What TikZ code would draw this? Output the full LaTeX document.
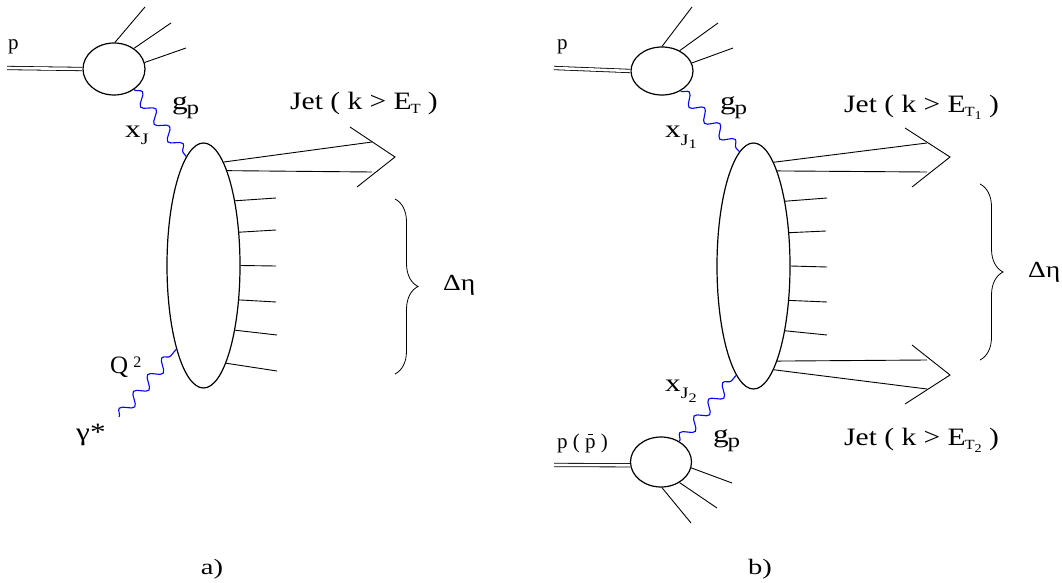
\documentclass[tikz,border=0pt]{standalone}
\usepackage{fontspec}
\setmainfont{Liberation Serif}
\usepackage{graphicx}
\usetikzlibrary{shapes.geometric,decorations.pathmorphing,decorations.pathreplacing}
\newcommand{\hsc}[2]{\scalebox{#1}[1]{#2}}
\newcommand{\lowsub}[3]{\raisebox{-#1pt}{\fontsize{#2}{#2}\selectfont #3}}
\newcommand{\pbar}{\ooalign{p\cr\hidewidth\rule[0.62em]{0.22em}{0.05em}\hidewidth\cr}}
\begin{document}
\begin{tikzpicture}[x=1pt,y=-1pt,
  blob/.style={draw, ellipse, inner sep=0pt, line width=1.2pt},
  ln/.style={line width=0.9pt},
  beam/.style={double, double distance=2.6pt, line width=0.8pt},
  gluon/.style={draw=blue, line width=1.1pt, decorate,
    decoration={snake, segment length=22pt, amplitude=5.5pt}},
  lbl/.style={inner sep=0pt, anchor=base west, font=\fontsize{25}{29}\selectfont},
  smalllbl/.style={lbl, font=\fontsize{21}{24}\selectfont},
  brc/.style={decorate, decoration={brace, amplitude=23pt}, line width=0.8pt}
]
\useasboundingbox (0,0) rectangle (1062,583);

% ---------------- panel a ----------------
\node[blob, minimum width=62pt, minimum height=52pt] (sa) at (114,69) {};
\node[blob, minimum width=73pt, minimum height=245pt] (Ba) at (203.5,265.5) {};

\coordinate (pa) at (7,68);
\draw[beam] (pa) -- (sa.west);
\coordinate (sa1) at (145,7);
\coordinate (sa2) at (171,23);
\coordinate (sa3) at (186,48);
\draw[ln] (sa.88) -- (sa1);
\draw[ln] (sa.46) -- (sa2);
\draw[ln] (sa.12) -- (sa3);

\draw[gluon] (sa.-46) -- (Ba.99);
\coordinate (ga) at (119,417);
\draw[gluon] (ga) -- (Ba.252);

\coordinate (ja1) at (372,142);
\coordinate (ja2) at (372,172);
\coordinate (jaU) at (350,127);
\coordinate (jaT) at (395,157);
\coordinate (jaL) at (357,187);
\draw[ln] (Ba.79) -- (ja1);
\draw[ln] (Ba.76) -- (ja2);
\draw[ln] (jaU) -- (jaT) -- (jaL);

\coordinate (ha1) at (276,198);
\coordinate (ha2) at (276,230);
\coordinate (ha3) at (276,266);
\coordinate (ha4) at (276,302);
\coordinate (ha5) at (277,335);
\coordinate (ha6) at (277,371);
\draw[ln] (Ba.64) -- (ha1);
\draw[ln] (Ba.43) -- (ha2);
\draw[ln] (Ba.0) -- (ha3);
\draw[ln] (Ba.-44) -- (ha4);
\draw[ln] (Ba.-64) -- (ha5);
\draw[ln] (Ba.-77) -- (ha6);

\coordinate (bat) at (395,199);
\coordinate (bab) at (395,374);
\draw[brc] (bat) -- (bab);

\node[smalllbl] (lpa) at (8,50) {p};
\node[lbl] (lga) at (172,110) {\hsc{1.25}{g\kern-1pt\lowsub{5}{20}{p}}};
\node[lbl] (lxa) at (125,137) {\hsc{1.25}{x\lowsub{7}{16}{J}}};
\node[lbl] (lja) at (290,110) {\hsc{1.18}{Jet ( k > E\kern-1pt\lowsub{4}{14}{T} )}};
\node[lbl] (lqa) at (110,373) {Q\kern5pt\raisebox{6pt}{\fontsize{16}{16}\selectfont 2}};
\node[lbl] (lgam) at (76,440) {\hsc{1.25}{γ*}};
\node[lbl, font=\fontsize{23}{26}\selectfont] (lda) at (443,290) {\hsc{1.2}{Δη}};
\node[lbl, anchor=center, font=\fontsize{22}{26}\selectfont] (capa) at (212,569) {\hsc{1.3}{a)}};

% ---------------- panel b ----------------
\node[blob, minimum width=62pt, minimum height=48pt] (sb) at (662,71) {};
\node[blob, minimum width=73pt, minimum height=246pt] (Bb) at (753.5,266) {};
\node[blob, minimum width=61pt, minimum height=50pt] (sc) at (661,462) {};

\coordinate (pb) at (554,68);
\draw[beam] (pb) -- (sb.west);
\coordinate (pc) at (554,465);
\draw[beam] (pc) -- (sc.186);

\coordinate (sb1) at (692,7);
\coordinate (sb2) at (718,23);
\coordinate (sb3) at (733,48);
\draw[ln] (sb.90) -- (sb1);
\draw[ln] (sb.49) -- (sb2);
\draw[ln] (sb.15) -- (sb3);

\coordinate (sc1) at (732,483);
\coordinate (sc2) at (717,508);
\coordinate (sc3) at (691,523);
\draw[ln] (sc.-11) -- (sc1);
\draw[ln] (sc.-48) -- (sc2);
\draw[ln] (sc.-88) -- (sc3);

\draw[gluon] (sb.-47) -- (Bb.97.6);
\draw[gluon] (sc.48) -- (Bb.261.4);

\coordinate (jb1) at (927,143);
\coordinate (jb2) at (927,172);
\coordinate (jbU) at (905,128);
\coordinate (jbT) at (950,157);
\coordinate (jbL) at (912,187);
\draw[ln] (Bb.79) -- (jb1);
\draw[ln] (Bb.76) -- (jb2);
\draw[ln] (jbU) -- (jbT) -- (jbL);

\coordinate (kb1) at (927,360);
\coordinate (kb2) at (927,389);
\coordinate (kbU) at (912,345);
\coordinate (kbT) at (950,375);
\coordinate (kbL) at (905,404);
\draw[ln] (Bb.-76) -- (kb1);
\draw[ln] (Bb.-79) -- (kb2);
\draw[ln] (kbU) -- (kbT) -- (kbL);

\coordinate (hb1) at (827,198);
\coordinate (hb2) at (826,231);
\coordinate (hb3) at (827,267);
\coordinate (hb4) at (827,302);
\coordinate (hb5) at (827,335);
\draw[ln] (Bb.64) -- (hb1);
\draw[ln] (Bb.43) -- (hb2);
\draw[ln] (Bb.0) -- (hb3);
\draw[ln] (Bb.-44) -- (hb4);
\draw[ln] (Bb.-64) -- (hb5);

\coordinate (bbt) at (980,184);
\coordinate (bbb) at (980,360);
\draw[brc] (bbt) -- (bbb);

\node[smalllbl] (lpb) at (557,50) {p};
\node[lbl] (lgb) at (720,110) {\hsc{1.25}{g\kern-1pt\lowsub{5}{20}{p}}};
\node[lbl] (lxb) at (665,138) {\hsc{1.25}{x\lowsub{7}{16}{J\lowsub{4}{13}{1}}}};
\node[lbl] (ljb) at (844,113) {\hsc{1.18}{Jet ( k > E\kern-1pt\lowsub{4}{14}{T\lowsub{3}{12}{1}} )}};
\node[lbl] (lxc) at (665,391) {\hsc{1.25}{x\lowsub{7}{16}{J\lowsub{4}{13}{2}}}};
\node[lbl] (lgc) at (713,442) {\hsc{1.25}{g\kern-1pt\lowsub{5}{20}{p}}};
\node[smalllbl] (lpc) at (557,448) {p ( \pbar\ )};
\node[lbl] (ljc) at (844,445) {\hsc{1.18}{Jet ( k > E\kern-1pt\lowsub{4}{14}{T\lowsub{3}{12}{2}} )}};
\node[lbl, font=\fontsize{23}{26}\selectfont] (ldb) at (1028,277) {\hsc{1.2}{Δη}};
\node[lbl, anchor=center, font=\fontsize{22}{26}\selectfont] (capb) at (760,569) {\hsc{1.3}{b)}};
\end{tikzpicture}
\end{document}
